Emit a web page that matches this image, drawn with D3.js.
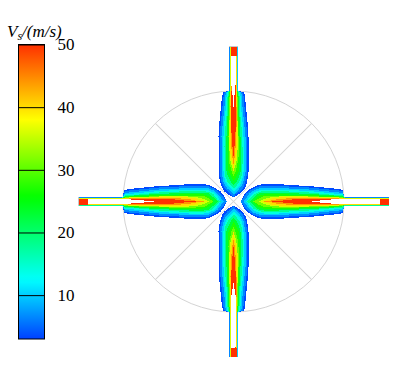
<!DOCTYPE html>
<html>
<head>
<meta charset="utf-8">
<script src="https://cdn.jsdelivr.net/npm/d3@7"></script>
<style>
  body { margin: 0; background: #fff; }
  svg { display: block; }
  text { font-family: "Liberation Serif", serif; }
</style>
</head>
<body>
<div id="chart"></div>
<script>
// Colour bar
const colorStops = [3, 12.4, 25.6, 38, 50];
const colorValues = ["#0040ff", "#00ffff", "#00ff00", "#ffff00", "#ff3000"];
const colorTicks = [10, 20, 30, 40, 50];

// Distance from the centre, one entry per column of the width tables below
const stations = [4, 7, 10, 13, 16, 20, 25, 30, 38, 45, 55, 65, 75, 85, 95, 105, 109, 111, 155];

// Speed of each contour band
const levels = [3.5, 6.5, 10, 14, 18, 23, 27, 31, 36, 40, 44, 50];

// Half width of each band along the left and right arms
const sideWidths = [
    [0, 0, 6, 10, 12, 14.5, 16.5, 17.5, 17.5, 17.5, 16.5, 16, 15.5, 14.5, 13.5, 12.5, 11.5, 4.5, 4.5],
    [0, 0, 4, 8, 10.5, 13, 15, 15.5, 16, 15.5, 15, 14.5, 14, 13, 12, 11, 10, 4.3, 4.3],
    [0, 0, 0, 4, 8, 11, 13, 13.5, 13.5, 13.5, 13, 12.5, 12, 11, 10, 9, 8, 4, 4],
    [0, 0, 0, 0, 5, 9, 11, 12, 12, 12, 11.5, 11, 10.5, 9.5, 8.5, 7.5, 7, 4, 4],
    [0, 0, 0, 0, 2, 7, 9.5, 10.5, 10.5, 10.5, 10, 9.5, 9, 8, 7, 6.5, 6, 4, 4],
    [0, 0, 0, 0, 0, 4, 8, 9, 9, 9, 8.5, 8, 7.5, 7, 6.5, 5.5, 5, 3.8, 3.8],
    [0, 0, 0, 0, 0, 0, 5.5, 7, 7.5, 7.5, 7, 7, 6.5, 6, 5.5, 5, 4.5, 3.5, 3.5],
    [0, 0, 0, 0, 0, 0, 3, 5.5, 6, 6, 6, 6, 5.5, 5, 5, 4.5, 4, 3.3, 3.3],
    [0, 0, 0, 0, 0, 0, 0, 2.5, 4.5, 5, 5.2, 5.2, 5, 4.5, 4.5, 4, 3.8, 3.2, 3.2],
    [0, 0, 0, 0, 0, 0, 0, 0, 3, 4, 4.4, 4.6, 4.4, 4, 4, 3.7, 3.5, 3, 3],
    [0, 0, 0, 0, 0, 0, 0, 0, 1, 2.5, 3.2, 3.6, 3.5, 3.3, 3.3, 3, 2.8, 2.2, 2.2],
    [0, 0, 0, 0, 0, 0, 0, 0, 0, 0.5, 1.6, 2.6, 2.8, 2.8, 2.8, 2.6, 2.3, 2, 2]
];

// Same for the top and bottom arms
const uprightWidths = [
    [0, 5, 9, 11, 12.5, 13.5, 14.5, 15, 15, 15, 15, 15, 14.5, 13.5, 12.5, 11.5, 10.5, 4.5, 4.5],
    [0, 2, 6, 9, 10.5, 12, 13, 13.5, 13.5, 13.5, 13.5, 13.5, 13, 12, 11, 10, 9, 4.3, 4.3],
    [0, 0, 3, 6, 8.5, 10, 11, 12, 12, 12, 12, 12, 11, 10, 9, 8.5, 7.5, 4, 4],
    [0, 0, 0, 3, 6, 8, 9.5, 10, 10.5, 10.5, 10.5, 10, 9.5, 8.5, 7.5, 7, 6.5, 3.8, 3.8],
    [0, 0, 0, 0, 3, 6, 8, 8.5, 9, 9, 9, 8.5, 8, 7, 6.5, 6, 5.5, 3.7, 3.7],
    [0, 0, 0, 0, 0, 3, 5.5, 7, 7.5, 7.5, 7.5, 7, 6.5, 6, 5.5, 5, 4.7, 3.6, 3.6],
    [0, 0, 0, 0, 0, 0, 2.5, 5, 6, 6, 6, 6, 5.5, 5, 4.7, 4.5, 4.2, 3.5, 3.5],
    [0, 0, 0, 0, 0, 0, 0, 2, 4, 5, 5, 5, 4.7, 4.5, 4.2, 4, 3.8, 3.4, 3.4],
    [0, 0, 0, 0, 0, 0, 0, 0, 2.5, 3.7, 4.2, 4.5, 4.2, 3.9, 3.7, 3.6, 3.5, 3.3, 3.3],
    [0, 0, 0, 0, 0, 0, 0, 0, 1, 2.8, 3.4, 3.6, 3.5, 3.4, 3.3, 3.2, 3.2, 3, 3],
    [0, 0, 0, 0, 0, 0, 0, 0, 0, 1.2, 2.2, 2.8, 3, 3, 3, 2.9, 2.7, 2.2, 2.2],
    [0, 0, 0, 0, 0, 0, 0, 0, 0, 0, 1, 1.8, 2.3, 2.3, 2.3, 2.3, 2.2, 2, 2]
];

// Speeds above the colour bar (left white) in each arm: distance, half width
const leftCoreR = [80, 95, 110, 128, 130, 146, 146];
const leftCoreW = [0, 1.5, 2.5, 2.5, 2.5, 2.5, 0];
const rightCoreR = [78, 90, 110, 125, 140, 146, 146];
const rightCoreW = [0, 1.5, 2.8, 2.5, 2.5, 2.5, 0];
const topCoreR = [94, 105, 118, 135, 146, 146];
const topCoreW = [0, 0.8, 2.2, 2.5, 2, 0];
const bottomCoreR = [81, 95, 110, 130, 146, 146];
const bottomCoreW = [0, 2.2, 2.6, 2.6, 2, 0];

// Hot block at the closed end of each pipe
const tipR = [146, 155];
const tipW = [3, 3];

// Domain outline
const domainRadius = 110.5;
const pipeR = [109, 155.5];
const pipeW = [4.9, 4.9];
const spokeAngles = [45, 135, 225, 315];

const svg = d3.select("#chart")
    .append("svg")
    .attr("width", 414)
    .attr("height", 382);

// ---- field ----
const rScale = d3.scaleLinear().domain([0, 160]).range([0, 160]);
const color = d3.scaleLinear().domain(colorStops).range(colorValues).clamp(true);

const field = svg.append("g")
    .attr("transform", "translate(233.5,201.5)");

const outline = "#d4d4d4";

field.append("circle")
    .attr("r", rScale(domainRadius))
    .attr("fill", "none")
    .attr("stroke", outline);

const spoke = d3.line()
    .x(d => rScale(d))
    .y(0);

spokeAngles.forEach(a => {
    field.append("path")
        .attr("transform", `rotate(${a})`)
        .attr("d", spoke([0, domainRadius]))
        .attr("stroke", outline)
        .attr("fill", "none");
});

// Arm shape: runs along +x, rotated into place afterwards
const band = d3.area()
    .x(d => rScale(d[0]))
    .y0(d => -rScale(d[1]))
    .y1(d => rScale(d[1]));

const arms = [
    {angle: 180, widths: sideWidths, coreR: leftCoreR, coreW: leftCoreW},
    {angle: 0, widths: sideWidths, coreR: rightCoreR, coreW: rightCoreW},
    {angle: -90, widths: uprightWidths, coreR: topCoreR, coreW: topCoreW},
    {angle: 90, widths: uprightWidths, coreR: bottomCoreR, coreW: bottomCoreW}
];

arms.forEach(arm => {
    const g = field.append("g")
        .attr("transform", `rotate(${arm.angle})`)
        .attr("shape-rendering", "crispEdges");

    g.append("path")
        .attr("d", band(d3.zip(pipeR, pipeW)))
        .attr("fill", "#c8c8c8");

    levels.forEach((level, i) => {
        g.append("path")
            .attr("d", band(d3.zip(stations, arm.widths[i])))
            .attr("fill", color(level));
    });

    g.append("path")
        .attr("d", band(d3.zip(arm.coreR, arm.coreW)))
        .attr("fill", "#fff");

    g.append("path")
        .attr("d", band(d3.zip(tipR, tipW)))
        .attr("fill", color(50));
});

// ---- colour bar ----
const barX = 18.5, barWidth = 26;
const barScale = d3.scaleLinear().domain([3, 50]).range([339, 44.5]);

const gradient = svg.append("defs").append("linearGradient")
    .attr("id", "bar-gradient")
    .attr("x1", 0).attr("x2", 0)
    .attr("y1", 1).attr("y2", 0);

d3.range(3, 50.5, 1).forEach(v => {
    gradient.append("stop")
        .attr("offset", (v - 3) / 47)
        .attr("stop-color", color(v));
});

svg.append("rect")
    .attr("x", barX)
    .attr("y", barScale(50))
    .attr("width", barWidth)
    .attr("height", barScale(3) - barScale(50))
    .attr("fill", "url(#bar-gradient)")
    .attr("stroke", "#000");

const barAxis = svg.append("g")
    .attr("transform", `translate(${barX + barWidth},0)`)
    .call(d3.axisRight(barScale).tickValues(colorTicks).tickSize(-barWidth).tickPadding(13));

barAxis.select(".domain").remove();
barAxis.selectAll("line").attr("stroke", "#000").attr("stroke-width", 1);
barAxis.selectAll("text")
    .attr("font-size", 17)
    .attr("fill", "#000");

// Title
const title = svg.append("text")
    .attr("x", 7)
    .attr("y", 37)
    .attr("font-size", 17)
    .attr("font-style", "italic")
    .attr("fill", "#000");
title.append("tspan").text("V");
title.append("tspan").attr("dy", 3).attr("font-size", 12).text("s");
title.append("tspan").attr("dy", -3).text("/(m/s)");
</script>
</body>
</html>
